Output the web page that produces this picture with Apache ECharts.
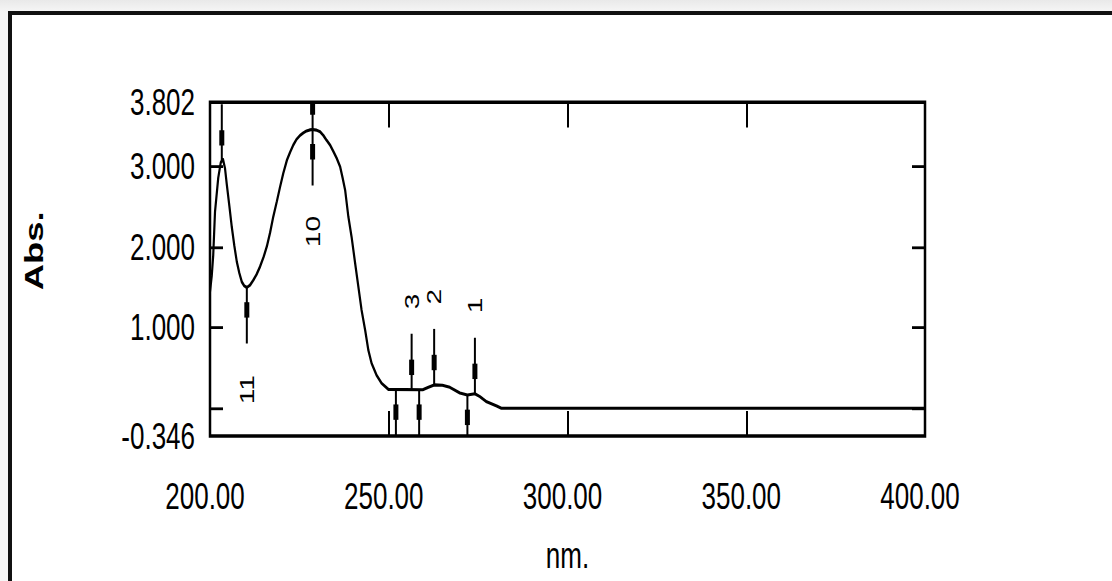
<!DOCTYPE html>
<html>
<head>
<meta charset="utf-8">
<script src="https://cdn.jsdelivr.net/npm/echarts@6/dist/echarts.min.js"></script>
<style>
  html, body { margin: 0; padding: 0; width: 1112px; height: 581px; overflow: hidden; }
  body { background: linear-gradient(#e9e9e9, #f6f6f6 12px); position: relative; }
  #frame {
    position: absolute; left: 8px; top: 11px; width: 1104px; height: 570px;
    border-left: 4px solid #111; border-top: 4px solid #111; background: #fff;
  }
  /* the source screenshot is stretched vertically, so draw at 415px and stretch */
  #chart {
    position: absolute; left: 0; top: 0; width: 1112px; height: 415px;
    transform: scaleY(1.4); transform-origin: 0 0;
  }
</style>
</head>
<body>
<div id="frame"></div>
<div id="chart"></div>
<script>
// spectrum (nm / Abs.)
const wavelength = [200.0, 200.5, 200.9, 201.4, 202.3, 203.0, 203.6, 204.2, 204.7, 205.4, 206.1, 206.8,
  207.5, 208.2, 208.9, 209.6, 210.3, 211.2, 212.1, 213.0, 214.0, 215.0, 215.9, 216.8, 217.7, 218.7,
  219.6, 220.5, 221.5, 222.4, 223.3, 224.2, 225.2, 226.1, 227.0, 227.9, 228.7, 229.8, 230.8, 231.7,
  232.6, 233.6, 234.5, 235.5, 236.4, 237.1, 237.8, 238.7, 239.6, 240.6, 241.5, 242.4, 243.4, 244.3,
  245.2, 246.6, 248.0, 249.9, 259.5, 261.1, 262.7, 265.0, 267.1, 269.9, 272.0, 274.1, 275.5, 277.4,
  280.2, 281.5, 400.0]
const absorbance = [1.45, 1.65, 1.90, 2.44, 2.86, 3.05, 3.10, 2.98, 2.78, 2.52, 2.25, 2.02,
  1.82, 1.68, 1.57, 1.52, 1.50, 1.53, 1.59, 1.66, 1.76, 1.88, 2.01, 2.18, 2.38, 2.57,
  2.75, 2.92, 3.08, 3.18, 3.27, 3.34, 3.39, 3.42, 3.445, 3.458, 3.464, 3.455, 3.434, 3.39,
  3.33, 3.27, 3.19, 3.10, 3.00, 2.86, 2.71, 2.38, 2.13, 1.80, 1.51, 1.22, 0.97, 0.72,
  0.56, 0.41, 0.31, 0.234, 0.23, 0.26, 0.29, 0.285, 0.26, 0.19, 0.165, 0.18, 0.145, 0.08,
  0.027, 0.0, 0.0]

// peak / valley pick markers (dir 1 = drawn upward, -1 = downward)
const markNm = [274.1, 262.7, 256.4, 228.7, 210.3, 228.7, 203.3, 272.0, 258.5, 252.0]
const markAbs = [0.18, 0.29, 0.23, 3.464, 1.50, 3.464, 3.08, 0.165, 0.23, 0.23]
const markDir = [1, 1, 1, -1, -1, 1, 1, -1, -1, -1]
const markLabel = ['1', '2', '3', '10', '11', '', '', '', '', '']

// axis ticks
const xMin = 200, xMax = 400, xStep = 50
const yMin = -0.346, yMax = 3.802
const yTicks = [0, 1, 2, 3]
const yLabels = [-0.346, 1, 2, 3, 3.802]

const chart = echarts.init(document.getElementById('chart'), null, { renderer: 'svg' })
const font = '"Liberation Sans", Arial, sans-serif'

const option = {
  animation: false,
  grid: {
    left: 210, right: 187, top: 73, bottom: 103.5,
    show: true, borderColor: '#000', borderWidth: 2.5, backgroundColor: 'transparent'
  },
  xAxis: [
    {
      type: 'value', min: xMin, max: xMax, interval: xStep,
      name: 'nm.', nameLocation: 'middle', nameGap: 72,
      nameTextStyle: { color: '#000', fontFamily: font, fontSize: 26 },
      axisLine: { show: false, onZero: false },
      axisTick: { inside: true, length: 18, lineStyle: { color: '#000', width: 2 } },
      axisLabel: {
        color: '#000', fontFamily: font, fontSize: 26, margin: 30, padding: [0, 10, 0, 0],
        formatter: v => v.toFixed(2)
      },
      splitLine: { show: false }
    },
    {
      type: 'value', position: 'top', min: xMin, max: xMax, interval: xStep,
      axisLine: { show: false, onZero: false },
      axisTick: { inside: true, length: 18, lineStyle: { color: '#000', width: 2 } },
      axisLabel: { show: false },
      splitLine: { show: false }
    }
  ],
  yAxis: [
    {
      type: 'value', min: yMin, max: yMax,
      name: 'Abs.', nameLocation: 'middle', nameGap: 163, nameRotate: 90,
      nameTextStyle: {
        color: '#000', fontFamily: font, fontSize: 26, fontWeight: 'bold',
        padding: [0, 0, 0, 26]
      },
      axisLine: { show: false, onZero: false },
      axisTick: { inside: true, length: 13, customValues: yTicks, lineStyle: { color: '#000', width: 2 } },
      axisLabel: {
        color: '#000', fontFamily: font, fontSize: 26, margin: 15,
        customValues: yLabels,
        formatter: v => v.toFixed(3)
      },
      splitLine: { show: false }
    },
    {
      type: 'value', position: 'right', min: yMin, max: yMax,
      axisLine: { show: false, onZero: false },
      axisTick: { inside: true, length: 13, customValues: yTicks, lineStyle: { color: '#000', width: 2 } },
      axisLabel: { show: false },
      splitLine: { show: false }
    }
  ],
  series: [
    {
      type: 'line',
      data: wavelength.map((x, i) => [x, absorbance[i]]),
      showSymbol: false,
      lineStyle: { color: '#000', width: 2.2 },
      z: 3
    },
    {
      type: 'custom',
      clip: true,
      z: 4,
      data: markNm.map((x, i) => [x, markAbs[i], markDir[i], i]),
      renderItem: (params, api) => {
        const p = api.coord([api.value(0), api.value(1)])
        const dir = api.value(2)
        const label = markLabel[api.value(3)]
        const end = p[1] - dir * 40
        const blob = p[1] - dir * 16
        const children = [
          { type: 'line', shape: { x1: p[0], y1: p[1], x2: p[0], y2: end }, style: { stroke: '#000', lineWidth: 2 } },
          { type: 'rect', shape: { x: p[0] - 2.5, y: blob - 5.5, width: 5, height: 11 }, style: { fill: '#000' } }
        ]
        if (label) {
          children.push({
            type: 'text', x: p[0], y: dir > 0 ? p[1] - 63 : p[1] + 73, rotation: Math.PI / 2,
            style: { text: label, fill: '#000', font: '20px "Liberation Sans", Arial, sans-serif', align: 'center', verticalAlign: 'middle' }
          })
        }
        return { type: 'group', children }
      }
    }
  ]
}

chart.setOption(option)
window.addEventListener('resize', () => chart.resize())
</script>
</body>
</html>
